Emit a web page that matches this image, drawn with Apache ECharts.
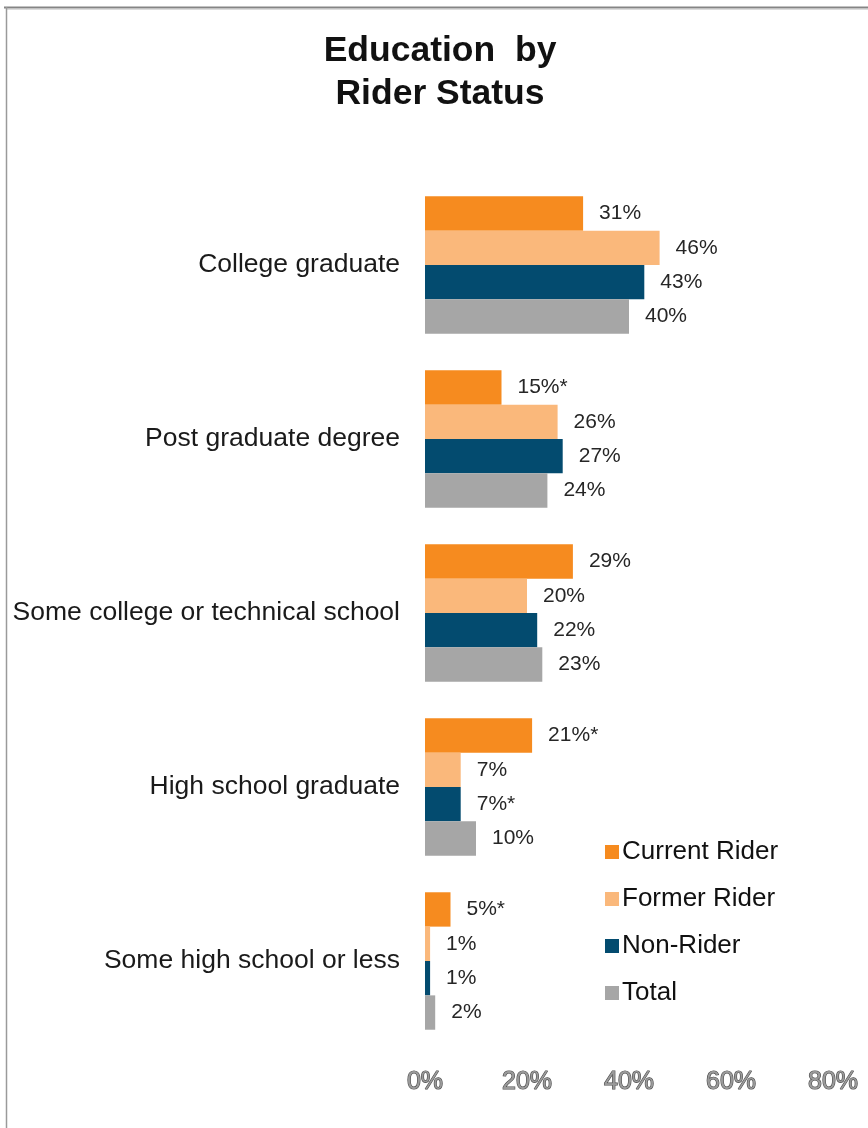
<!DOCTYPE html>
<html>
<head>
<meta charset="utf-8">
<title>Education by Rider Status</title>
<script src="https://cdn.jsdelivr.net/npm/echarts@6/dist/echarts.min.js"></script>
<style>
  html, body { margin: 0; padding: 0; background: #ffffff; }
  #chart { width: 868px; height: 1128px; }
</style>
</head>
<body>
<div id="chart"></div>
<script>
// Education levels, top to bottom
const categories = [
  'College graduate',
  'Post graduate degree',
  'Some college or technical school',
  'High school graduate',
  'Some high school or less'
];

// Share of respondents (%) by rider status
const currentRider = [31, 15, 29, 21, 5];
const formerRider  = [46, 26, 20, 7, 1];
const nonRider     = [43, 27, 22, 7, 1];
const total        = [40, 24, 23, 10, 2];

// Significance markers appended to value labels
const currentMarks = ['', '*', '', '*', '*'];
const formerMarks  = ['', '', '', '', ''];
const nonMarks     = ['', '', '', '*', ''];
const totalMarks   = ['', '', '', '', ''];

const xTicks = { min: 0, max: 80, interval: 20 };

const FONT = "'Liberation Sans', Arial, sans-serif";

function makeSeries(name, data, marks, color) {
  return {
    name: name,
    type: 'bar',
    data: data,
    barGap: '0%',
    barCategoryGap: '21%',
    itemStyle: { color: color },
    label: {
      show: true,
      position: 'right',
      distance: 16,
      fontFamily: FONT,
      fontSize: 21,
      color: '#262626',
      formatter: p => p.value + '%' + marks[p.dataIndex]
    }
  };
}

const chart = echarts.init(document.getElementById('chart'), null, { renderer: 'canvas' });

chart.setOption({
  backgroundColor: '#ffffff',
  animation: false,
  title: {
    text: 'Education  by\nRider Status',
    left: 440,
    top: 30,
    textAlign: 'center',
    padding: 0,
    textStyle: {
      fontFamily: FONT,
      fontSize: 35.5,
      fontWeight: 'bold',
      lineHeight: 43,
      color: '#111111'
    }
  },
  graphic: [
    { type: 'line', shape: { x1: 4, y1: 7.5, x2: 868, y2: 7.5 }, style: { stroke: '#858585', lineWidth: 2 } },
    { type: 'line', shape: { x1: 6, y1: 9.5, x2: 868, y2: 9.5 }, style: { stroke: '#dcdcdc', lineWidth: 1 } },
    { type: 'line', shape: { x1: 6.5, y1: 7, x2: 6.5, y2: 1128 }, style: { stroke: '#9a9a9a', lineWidth: 1.5 } }
  ],
  legend: {
    orient: 'vertical',
    left: 600,
    top: 834,
    icon: 'rect',
    itemWidth: 14,
    itemHeight: 14,
    itemGap: 21,
    textStyle: {
      fontFamily: FONT,
      fontSize: 26,
      lineHeight: 25,
      color: '#111111',
      padding: [0, 0, 0, -2]
    },
    data: ['Current Rider', 'Former Rider', 'Non-Rider', 'Total']
  },
  grid: { left: 425, right: 35, top: 178, bottom: 80, containLabel: false },
  xAxis: {
    type: 'value',
    min: xTicks.min,
    max: xTicks.max,
    interval: xTicks.interval,
    axisLine: { show: false },
    axisTick: { show: false },
    splitLine: { show: false },
    axisLabel: {
      margin: 22,
      fontFamily: FONT,
      fontSize: 25,
      color: '#9a9a9a',
      textBorderColor: '#4a4a4a',
      textBorderWidth: 1.2,
      formatter: '{value}%'
    }
  },
  yAxis: {
    type: 'category',
    data: categories,
    inverse: true,
    axisLine: { show: false },
    axisTick: { show: false },
    axisLabel: {
      margin: 25,
      fontFamily: FONT,
      fontSize: 26.5,
      color: '#1a1a1a'
    }
  },
  series: [
    makeSeries('Current Rider', currentRider, currentMarks, '#F68B1F'),
    makeSeries('Former Rider', formerRider, formerMarks, '#FAB87B'),
    makeSeries('Non-Rider', nonRider, nonMarks, '#034B6F'),
    makeSeries('Total', total, totalMarks, '#A6A6A6')
  ]
});
</script>
</body>
</html>
